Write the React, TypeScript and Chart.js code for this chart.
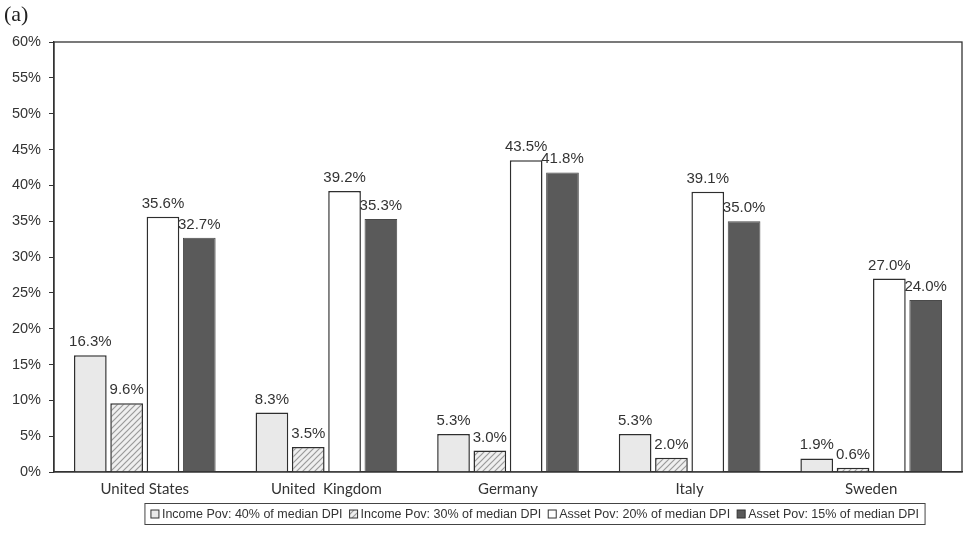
import React, { useEffect, useRef } from "react";
import { Chart, registerables } from "chart.js";

Chart.register(...registerables);

const categories = ["United States", "United  Kingdom", "Germany", "Italy", "Sweden"];
const seriesNames = [
  "Income Pov: 40% of median DPI",
  "Income Pov: 30% of median DPI",
  "Asset Pov: 20% of median DPI",
  "Asset Pov: 15% of median DPI",
];
const income40 = [16.3, 8.3, 5.3, 5.3, 1.9];
const income30 = [9.6, 3.5, 3.0, 2.0, 0.6];
const asset20 = [35.6, 39.2, 43.5, 39.1, 27.0];
const asset15 = [32.7, 35.3, 41.8, 35.0, 24.0];
const yTicks = [0, 5, 10, 15, 20, 25, 30, 35, 40, 45, 50, 55, 60];

const LABEL_FONT = "'Liberation Sans', Arial, sans-serif";

function makeHatch(): CanvasPattern | string {
  const c = document.createElement("canvas");
  c.width = 6;
  c.height = 6;
  const x = c.getContext("2d");
  if (!x) return "#e6e6e6";
  x.fillStyle = "#efefef";
  x.fillRect(0, 0, 6, 6);
  x.strokeStyle = "#9a9a9a";
  x.lineWidth = 1.2;
  x.beginPath();
  x.moveTo(0, 6);
  x.lineTo(6, 0);
  x.moveTo(-1, 1);
  x.lineTo(1, -1);
  x.moveTo(5, 7);
  x.lineTo(7, 5);
  x.stroke();
  const p = x.createPattern(c, "repeat");
  return p || "#e6e6e6";
}

const valueLabels = {
  id: "valueLabels",
  afterDatasetsDraw(chart: any) {
    const ctx = chart.ctx;
    ctx.save();
    ctx.font = "15px " + LABEL_FONT;
    ctx.fillStyle = "#333";
    ctx.textAlign = "center";
    ctx.textBaseline = "alphabetic";
    chart.data.datasets.forEach((ds: any, i: number) => {
      const meta = chart.getDatasetMeta(i);
      meta.data.forEach((bar: any, j: number) => {
        ctx.fillText(ds.data[j].toFixed(1) + "%", bar.x, bar.y - 9);
      });
    });
    ctx.restore();
  },
};

const frameAndLegend = {
  id: "frameAndLegend",
  afterDraw(chart: any) {
    const ctx = chart.ctx;
    const a = chart.chartArea;
    ctx.save();
    ctx.strokeStyle = "#333";
    ctx.lineWidth = 1.3;
    ctx.strokeRect(a.left, a.top, a.right - a.left, a.bottom - a.top);

    // legend
    const ds = chart.data.datasets;
    ctx.font = "12.5px " + LABEL_FONT;
    const box = 8, gapIn = 3, gapOut = 7, padX = 6;
    const widths = ds.map((d: any) => ctx.measureText(d.label).width);
    const total =
      widths.reduce((s: number, w: number) => s + w, 0) + ds.length * (box + gapIn) + (ds.length - 1) * gapOut + padX * 2;
    const cx = 535, cy = 514, h = 21;
    const left = cx - total / 2;
    ctx.lineWidth = 1;
    ctx.strokeStyle = "#444";
    ctx.strokeRect(left, cy - h / 2, total, h);
    let x = left + padX;
    ctx.textBaseline = "middle";
    ctx.textAlign = "left";
    ds.forEach((d: any, i: number) => {
      ctx.fillStyle = d.backgroundColor;
      ctx.fillRect(x, cy - box / 2, box, box);
      ctx.strokeStyle = "#333";
      ctx.lineWidth = 1;
      ctx.strokeRect(x, cy - box / 2, box, box);
      ctx.fillStyle = "#333";
      ctx.fillText(d.label, x + box + gapIn, cy + 1);
      x += box + gapIn + widths[i] + gapOut;
    });
    ctx.restore();
  },
};

export default function App() {
  const ref = useRef<HTMLCanvasElement | null>(null);
  useEffect(() => {
    if (!ref.current) return;
    const hatch = makeHatch();
    const border = "#2e2e2e";
    const chart = new Chart(ref.current, {
      type: "bar",
      data: {
        labels: categories,
        datasets: [
          { label: seriesNames[0], data: income40, backgroundColor: "#e9e9e9", borderColor: border, borderWidth: 1.5 },
          { label: seriesNames[1], data: income30, backgroundColor: hatch as any, borderColor: border, borderWidth: 1.5 },
          { label: seriesNames[2], data: asset20, backgroundColor: "#ffffff", borderColor: border, borderWidth: 1.5 },
          { label: seriesNames[3], data: asset15, backgroundColor: "#5a5a5a", borderColor: "#4a4a4a", borderWidth: 1 },
        ],
      },
      options: {
        animation: false,
        responsive: true,
        maintainAspectRatio: false,
        layout: { padding: { left: 4, right: 6, top: 0, bottom: 0 } },
        plugins: {
          title: {
            display: true,
            text: "(a)",
            align: "start",
            color: "#222",
            font: { family: "'Liberation Serif', 'DejaVu Serif', serif", size: 22, weight: "normal" },
            padding: { top: 2, bottom: 13.6 },
          },
          legend: { display: false },
          tooltip: { enabled: false },
        },
        scales: {
          x: {
            grid: { display: false },
            border: { display: true, color: "#333", width: 1.3 },
            categoryPercentage: 0.78,
            barPercentage: 0.92,
            afterFit: (s: any) => {
              s.height = 68;
            },
            ticks: {
              color: "#333",
              padding: 0,
              font: { family: "Lato, 'Open Sans', sans-serif", size: 15 },
            },
          } as any,
          y: {
            min: 0,
            max: 60,
            afterBuildTicks: (s: any) => {
              s.ticks = yTicks.map((v) => ({ value: v }));
            },
            afterFit: (s: any) => {
              s.width = 50;
            },
            grid: { drawOnChartArea: false, tickLength: 5, color: "#333" },
            border: { display: true, color: "#333", width: 1.3 },
            ticks: {
              color: "#333",
              padding: 8,
              font: { family: LABEL_FONT, size: 14.5 },
              callback: (v: any) => v + "%",
            },
          },
        },
      },
      plugins: [valueLabels, frameAndLegend],
    });
    return () => chart.destroy();
  }, []);
  return (
    <div style={{ position: "fixed", left: 0, top: 0, width: 968, height: 540, background: "#fff" }}>
      <canvas ref={ref} />
    </div>
  );
}
